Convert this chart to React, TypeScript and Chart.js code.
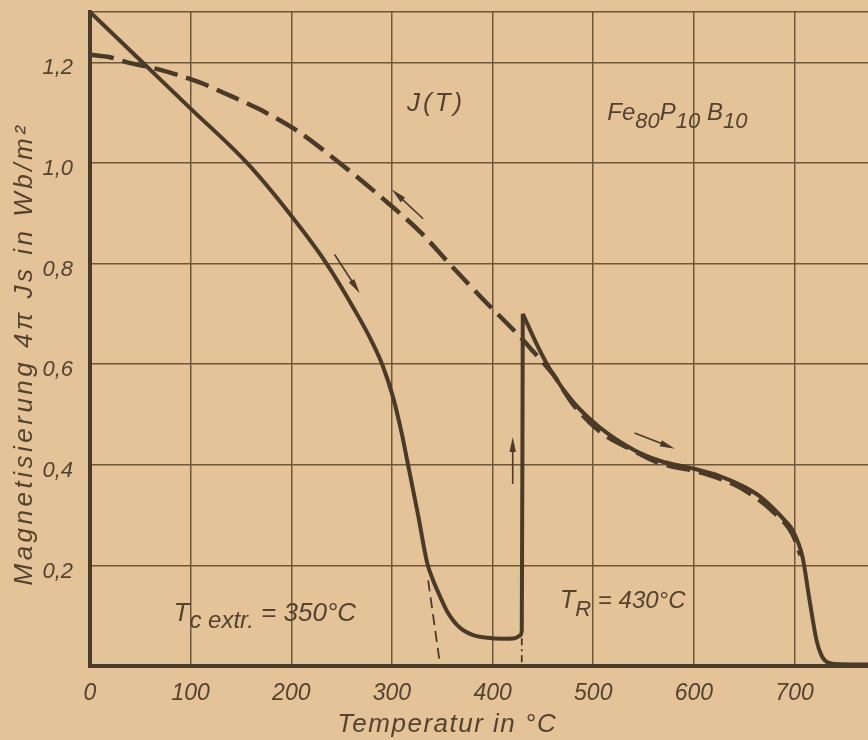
import React, { useEffect, useRef } from "react";
import { Chart, registerables } from "chart.js";

Chart.register(...registerables);

// ---- data ----
const xTicks = [0, 100, 200, 300, 400, 500, 600, 700];
const yTicks = [0, 0.2, 0.4, 0.6, 0.8, 1.0, 1.2, 1.3];

// heating curve, up to the jump at T_R
const heatT = [0, 50, 100, 156, 198, 235, 268, 280, 291, 301, 310, 315, 326, 335, 341, 347, 355, 367, 380, 395, 410, 422, 427, 429, 430];
const heatJ = [1.30, 1.204, 1.108, 1.0, 0.90, 0.80, 0.69, 0.645, 0.596, 0.535, 0.46, 0.41, 0.30, 0.205, 0.17, 0.142, 0.108, 0.077, 0.062, 0.056, 0.054, 0.055, 0.06, 0.07, 0.70];
// heating curve after the jump
const heat2T = [430, 445, 460, 480, 506, 540, 566, 600, 625, 648, 665, 678, 690, 698, 708, 715, 722, 727, 732, 740, 773];
const heat2J = [0.70, 0.635, 0.58, 0.525, 0.475, 0.43, 0.408, 0.392, 0.378, 0.358, 0.338, 0.315, 0.29, 0.27, 0.216, 0.13, 0.05, 0.02, 0.008, 0.004, 0.003];
// cooling curve (dashed)
const coolT = [0, 20, 37, 70, 109, 132, 170, 205, 248, 291, 328, 357, 390, 427, 440, 460, 480, 506, 540, 566, 600, 625, 648, 678, 698, 706];
const coolJ = [1.215, 1.21, 1.20, 1.185, 1.16, 1.14, 1.105, 1.065, 1.0, 0.929, 0.863, 0.80, 0.73, 0.655, 0.626, 0.58, 0.52, 0.467, 0.428, 0.403, 0.388, 0.373, 0.352, 0.308, 0.262, 0.22];
// extrapolation to T_c
const extrT = [336, 348];
const extrJ = [0.17, 0];
// dash-dot foot of the jump
const footT = [429, 429];
const footJ = [0.055, 0];

// arrows: [tailT, tailJ, headT, headJ]
const arrows = [
  [243, 0.818, 268, 0.741],
  [331, 0.889, 300, 0.947],
  [420, 0.362, 420, 0.455],
  [541, 0.463, 581, 0.432],
];

const INK = "#4a3a28";
const TEXT = "#54432f";
const GRID = "#6e5638";
const FONT = "'Liberation Sans', 'DejaVu Sans', sans-serif";
const NUMFONT = "'Liberation Sans', 'DejaVu Sans', sans-serif";

const pts = (xs: number[], ys: number[]) => xs.map((x, i) => ({ x, y: ys[i] }));

const annotate = {
  id: "annotate",
  afterDraw(chart: any) {
    const { ctx, chartArea, scales } = chart;
    const xs = scales.x;
    const ys = scales.y;
    const X = (v: number) => xs.getPixelForValue(v);
    const Y = (v: number) => ys.getPixelForValue(v);
    ctx.save();
    // arrows
    ctx.strokeStyle = INK;
    ctx.fillStyle = INK;
    for (const [t0, j0, t1, j1] of arrows) {
      const x0 = X(t0), y0 = Y(j0), x1 = X(t1), y1 = Y(j1);
      const ang = Math.atan2(y1 - y0, x1 - x0);
      ctx.lineWidth = 1.6;
      ctx.beginPath();
      ctx.moveTo(x0, y0);
      ctx.lineTo(x1 - 8 * Math.cos(ang), y1 - 8 * Math.sin(ang));
      ctx.stroke();
      const L = 15, W = 3.2;
      ctx.beginPath();
      ctx.moveTo(x1, y1);
      ctx.lineTo(x1 - L * Math.cos(ang) - W * Math.sin(ang), y1 - L * Math.sin(ang) + W * Math.cos(ang));
      ctx.lineTo(x1 - L * Math.cos(ang) + W * Math.sin(ang), y1 - L * Math.sin(ang) - W * Math.cos(ang));
      ctx.closePath();
      ctx.fill();
    }
    // texts
    ctx.fillStyle = TEXT;
    ctx.textBaseline = "alphabetic";
    const seq = (x: number, y: number, parts: [string, number, number][], sp = 0) => {
      let cx = x;
      (ctx as any).letterSpacing = `${sp}px`;
      for (const [s, size, dy] of parts) {
        ctx.font = `italic ${size}px ${FONT}`;
        ctx.fillText(s, cx, y + dy);
        cx += ctx.measureText(s).width;
      }
      (ctx as any).letterSpacing = "0px";
    };
    ctx.textAlign = "left";
    seq(X(315), Y(1.12) + 8, [["J(T)", 26, 0]], 3);
    seq(X(514), Y(1.085), [["Fe", 24, 0], ["80", 22, 8], ["P", 24, 0], ["10", 22, 8], [" B", 24, 0], ["10", 22, 8]]);
    seq(X(83), Y(0.089), [["T", 26, 0], ["c extr.", 24, 7], [" = 350°C", 26, 0]]);
    seq(X(467), Y(0.115), [["T", 25, 0], ["R", 22, 8], [" = 430°C", 24, 0]]);
    // axis titles
    ctx.font = `italic 26px ${FONT}`;
    ctx.textAlign = "center";
    (ctx as any).letterSpacing = "1.5px";
    ctx.fillText("Temperatur in °C", X(355), chartArea.bottom + 66);
    ctx.save();
    ctx.translate(32, Y(0.62));
    ctx.rotate(-Math.PI / 2);
    ctx.font = `italic 26px ${FONT}`;
    (ctx as any).letterSpacing = "3.5px";
    ctx.fillText("Magnetisierung 4π Js in Wb/m²", 0, 0);
    ctx.restore();
    ctx.restore();
  },
};

export default function App() {
  const ref = useRef<HTMLCanvasElement | null>(null);
  useEffect(() => {
    if (!ref.current) return;
    const chart = new Chart(ref.current, {
      type: "line",
      data: {
        datasets: [
          {
            data: pts(coolT, coolJ),
            borderColor: INK,
            borderWidth: 4.5,
            borderDash: [24, 9],
            pointRadius: 0,
            cubicInterpolationMode: "monotone",
            fill: false,
          },
          {
            data: pts(heatT, heatJ),
            borderColor: INK,
            borderWidth: 4,
            pointRadius: 0,
            cubicInterpolationMode: "monotone",
            fill: false,
          },
          {
            data: pts(heat2T, heat2J),
            borderColor: INK,
            borderWidth: 4,
            pointRadius: 0,
            cubicInterpolationMode: "monotone",
            fill: false,
          },
          {
            data: pts(extrT, extrJ),
            borderColor: INK,
            borderWidth: 1.8,
            borderDash: [11, 6],
            pointRadius: 0,
            fill: false,
          },
          {
            data: pts(footT, footJ),
            borderColor: INK,
            borderWidth: 1.8,
            borderDash: [7, 4, 2, 4],
            pointRadius: 0,
            fill: false,
          },
        ],
      },
      options: {
        animation: false,
        responsive: false,
        maintainAspectRatio: false,
        layout: { padding: { top: 12, right: 0, left: 0, bottom: 0 } },
        plugins: { legend: { display: false }, tooltip: { enabled: false } },
        scales: {
          x: {
            type: "linear",
            min: 0,
            max: 773,
            afterBuildTicks: (s: any) => {
              s.ticks = xTicks.map((v) => ({ value: v }));
            },
            afterFit: (s: any) => {
              s.height = 74;
              s.paddingLeft = 0;
              s.paddingRight = 0;
            },
            grid: { color: GRID, lineWidth: 1.5, drawTicks: false },
            border: { color: INK, width: 4 },
            ticks: {
              color: TEXT,
              padding: 14,
              maxRotation: 0,
              autoSkip: false,
              font: { family: NUMFONT, size: 23, style: "italic" },
              callback: (v: any) => String(v),
            },
          },
          y: {
            type: "linear",
            min: 0,
            max: 1.3,
            afterBuildTicks: (s: any) => {
              s.ticks = yTicks.map((v) => ({ value: v }));
            },
            afterFit: (s: any) => {
              s.width = 90;
              s.paddingTop = 0;
              s.paddingBottom = 0;
            },
            grid: { color: GRID, lineWidth: 1.5, drawTicks: false },
            border: { color: INK, width: 4 },
            ticks: {
              color: TEXT,
              padding: 17,
              autoSkip: false,
              labelOffset: 6,
              font: { family: NUMFONT, size: 22, style: "italic" },
              callback: (v: any) => {
                const n = Number(v);
                if (n === 0 || n > 1.25) return "";
                return n.toFixed(1).replace(".", ",");
              },
            },
          },
        },
      },
      plugins: [annotate],
    } as any);
    return () => chart.destroy();
  }, []);
  return (
    <div
      style={{
        position: "fixed",
        left: 0,
        top: 0,
        width: 868,
        height: 740,
        background: "#e4c398",
      }}
    >
      <canvas ref={ref} width={868} height={740} style={{ width: 868, height: 740, display: "block" }} />
    </div>
  );
}
